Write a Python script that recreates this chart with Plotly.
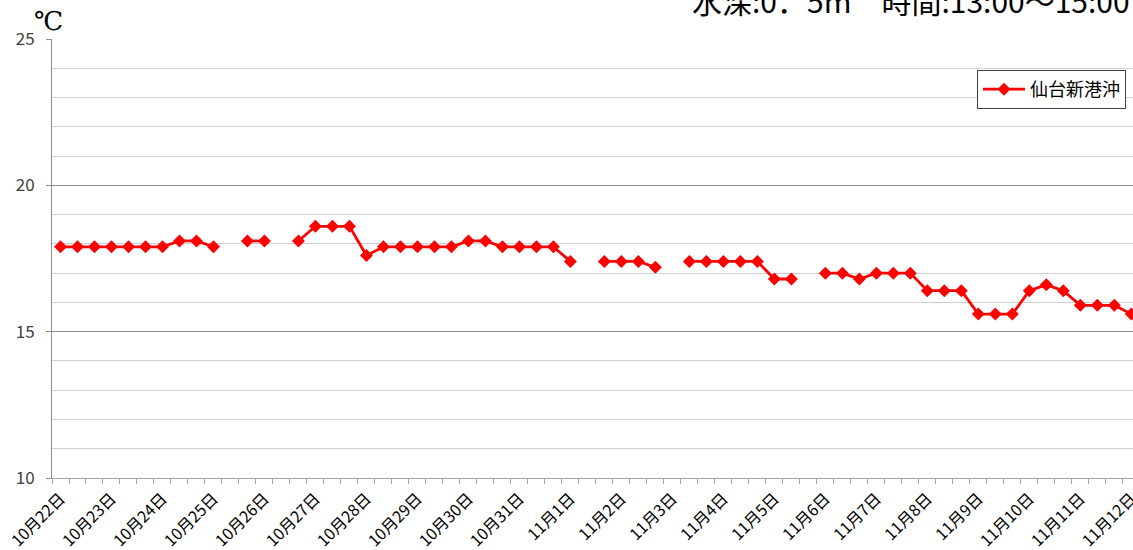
import plotly.graph_objects as go

# ---- data ----
day_labels = ["10月22日", "10月23日", "10月24日", "10月25日", "10月26日", "10月27日",
              "10月28日", "10月29日", "10月30日", "10月31日", "11月1日", "11月2日",
              "11月3日", "11月4日", "11月5日", "11月6日", "11月7日", "11月8日",
              "11月9日", "11月10日", "11月11日", "11月12日"]
slots_per_day = 3
series_name = "仙台新港沖"
temps = [17.9, 17.9, 17.9, 17.9, 17.9, 17.9, 17.9, 18.1, 18.1, 17.9,
         None, 18.1, 18.1, None, 18.1, 18.6, 18.6, 18.6, 17.6, 17.9,
         17.9, 17.9, 17.9, 17.9, 18.1, 18.1, 17.9, 17.9, 17.9, 17.9,
         17.4, None, 17.4, 17.4, 17.4, 17.2, None, 17.4, 17.4, 17.4,
         17.4, 17.4, 16.8, 16.8, None, 17.0, 17.0, 16.8, 17.0, 17.0,
         17.0, 16.4, 16.4, 16.4, 15.6, 15.6, 15.6, 16.4, 16.6, 16.4,
         15.9, 15.9, 15.9, 15.6]
title_text = "水深:0．5m　時間:13:00～15:00"
unit_text = "℃"

idx = list(range(len(temps)))
label_pos = [i * slots_per_day for i in range(len(day_labels))]
boundaries = [i - 0.5 for i in range(len(temps) + 2)]

FONT = "Noto Sans CJK JP"

fig = go.Figure()
fig.add_trace(go.Scatter(
    x=idx, y=temps, name=series_name, mode="lines+markers",
    line=dict(color="#FF0000", width=2.8),
    marker=dict(symbol="diamond", size=10, color="#FF0000"),
    connectgaps=False, cliponaxis=False,
))

fig.update_layout(
    width=1133, height=550,
    margin=dict(l=52, r=0, t=39, b=72, autoexpand=False),
    plot_bgcolor="white", paper_bgcolor="white",
    showlegend=True,
    legend=dict(x=(977 - 52) / 1081, y=(478 - 70) / 439, xanchor="left", yanchor="top",
                bgcolor="white", bordercolor="#404040", borderwidth=1,
                tracegroupgap=0, itemwidth=42,
                font=dict(family=FONT, size=18, color="#000000")),
    xaxis=dict(
        range=[-0.5, 63.1], automargin=False,
        tickmode="array", tickvals=label_pos, ticktext=day_labels,
        tickangle=-45, ticks="", showgrid=False,
        tickfont=dict(family=FONT, size=16, color="#000000"),
        showline=True, linecolor="#a6a6a6", linewidth=1,
        zeroline=False, ticklabelstandoff=4, ticklabeloverflow="allow",
        minor=dict(tickmode="array", tickvals=boundaries, ticks="outside",
                   ticklen=5, tickcolor="#a6a6a6", showgrid=False),
    ),
    yaxis=dict(
        range=[10, 25], tick0=10, dtick=5, automargin=False,
        showgrid=True, gridcolor="#8c8c8c", gridwidth=1,
        ticks="outside", ticklen=5, tickcolor="#8c8c8c",
        tickfont=dict(family=FONT, size=17, color="#404040"),
        showline=True, linecolor="#8c8c8c", linewidth=1,
        zeroline=False, ticklabelstandoff=8,
        minor=dict(dtick=1, showgrid=True, gridcolor="#d0d0d0", gridwidth=1, ticks=""),
    ),
    annotations=[
        dict(text=title_text, xref="paper", yref="paper",
             x=(690 - 52) / 1081, y=(478 + 0) / 439, xanchor="left", yanchor="middle",
             showarrow=False, font=dict(family=FONT, size=30, color="#000000")),
        dict(text=unit_text, xref="paper", yref="paper",
             x=(48 - 52) / 1081, y=(478 - 21) / 439, xanchor="center", yanchor="middle",
             showarrow=False, font=dict(family="DejaVu Serif, Liberation Serif, " + FONT,
                                        size=26, color="#000000")),
    ],
)

fig.write_html("out.html", config={"displayModeBar": False},
               post_script="document.body.style.margin='0';")
